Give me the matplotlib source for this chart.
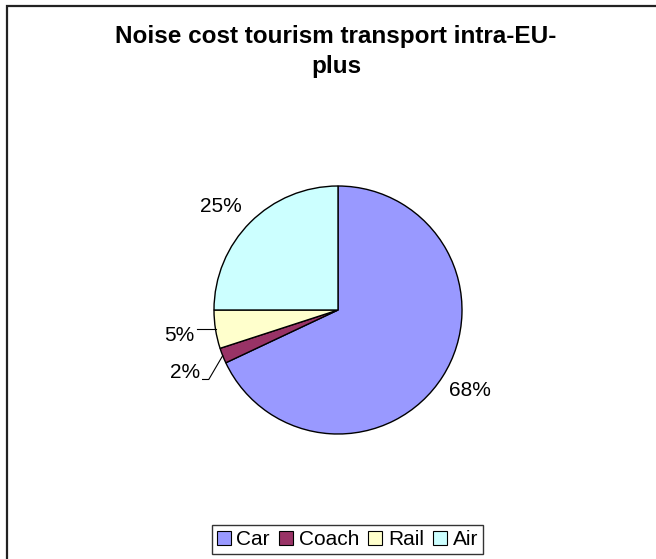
import matplotlib
matplotlib.use("Agg")
import matplotlib.pyplot as plt
from matplotlib.patches import Patch, Rectangle
import numpy as np

plt.rcParams["font.family"] = ["Liberation Sans", "DejaVu Sans"]

# data
categories = ["Car", "Coach", "Rail", "Air"]
shares = [68, 2, 5, 25]
pct_labels = ["68%", "2%", "5%", "25%"]
colors = ["#9999FF", "#993366", "#FFFFCC", "#CCFFFF"]

W, H = 656, 559
fig = plt.figure(figsize=(W / 100, H / 100), dpi=100, facecolor="white")

# outer chart border (runs off right/bottom edge like the source)
fig.patches.append(Rectangle((7 / W, -0.1), 1.2, 1 - 6 / H + 0.1,
                             transform=fig.transFigure, fill=False,
                             ec="#222222", lw=1.6))

# title
fig.text(336 / W, 1 - 37 / H, "Noise cost tourism transport intra-EU-",
         ha="center", va="center", fontsize=17.5, fontweight="bold")
fig.text(336 / W, 1 - 67 / H, "plus",
         ha="center", va="center", fontsize=17.5, fontweight="bold")

# pie axes: centre (338, 310) px, radius 124 px
R = 124
cx, cy = 338, 310
ax = fig.add_axes([(cx - R) / W, (H - cy - R) / H, 2 * R / W, 2 * R / H])
wedges, _ = ax.pie(shares, colors=colors, startangle=90, counterclock=False,
                   wedgeprops=dict(edgecolor="black", linewidth=1.0))
ax.set_xlim(-1, 1)
ax.set_ylim(-1, 1)
ax.set_aspect("equal")
ax.axis("off")

# percentage labels, placed along each wedge's middle angle
label_r = [1.25, 1.33, 1.30, 1.26]
label_nudge = [1.0, 0.5, 0.0, 3.5]   # degrees
for w, txt, lr, nd, v in zip(wedges, pct_labels, label_r, label_nudge, shares):
    mid = np.deg2rad((w.theta1 + w.theta2) / 2)
    lab = mid + np.deg2rad(nd)
    lx, ly = lr * np.cos(lab), lr * np.sin(lab)
    ax.text(lx, ly, txt, ha="center", va="center", fontsize=15, clip_on=False)
    if v < 10:
        ex, ey = np.cos(mid), np.sin(mid)
        if v < 3:
            yl = ly - 0.06
            ax.plot([ex, lx + 0.19, lx + 0.14], [ey, yl, yl],
                    color="black", lw=0.8, clip_on=False)
        else:
            ax.plot([ex, lx + 0.15], [ey, ey],
                    color="black", lw=0.8, clip_on=False)

# legend
handles = [Patch(facecolor=c, edgecolor="black", linewidth=0.8) for c in colors]
leg = fig.legend(handles, categories, loc="center",
                 bbox_to_anchor=(347.5 / W, 1 - 539.5 / H), ncol=4,
                 fontsize=15, frameon=True, fancybox=False,
                 handlelength=0.65, handleheight=0.65, handletextpad=0.28,
                 columnspacing=0.45, borderpad=0.25, borderaxespad=0)
leg.get_frame().set_edgecolor("black")
leg.get_frame().set_linewidth(1.0)

fig.savefig("out.png", dpi=100, facecolor="white")
